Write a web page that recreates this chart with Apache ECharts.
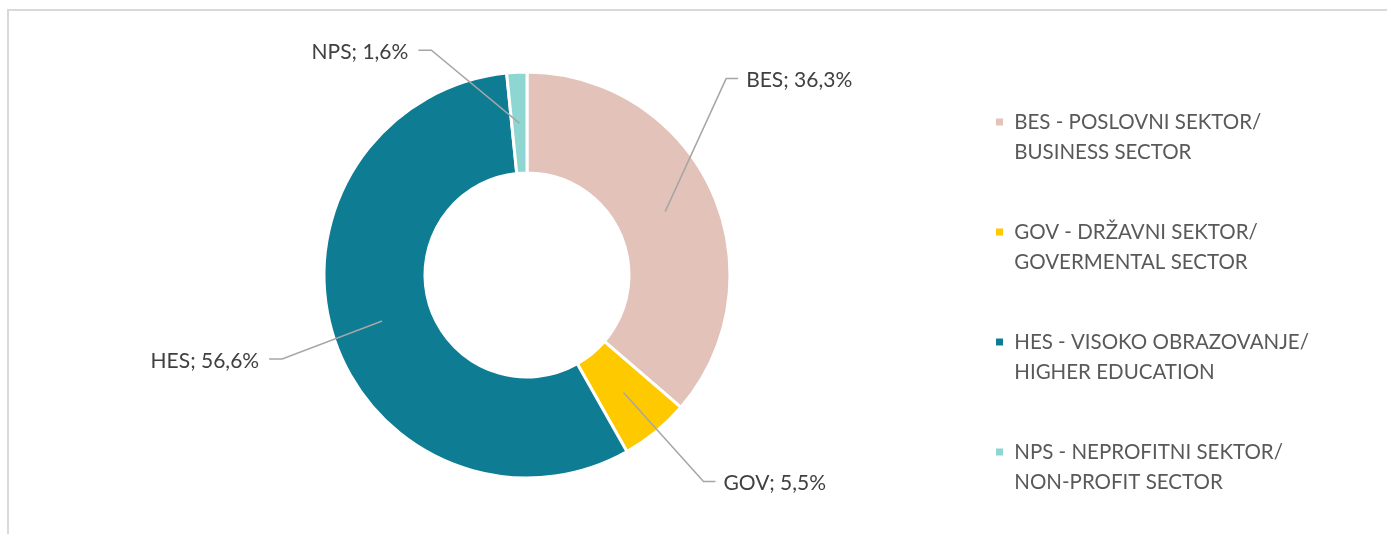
<!DOCTYPE html>
<html>
<head>
<meta charset="utf-8">
<script src="https://cdn.jsdelivr.net/npm/echarts@6/dist/echarts.min.js"></script>
<style>
  html, body { margin: 0; padding: 0; background: #fff; }
  #chart { width: 1387px; height: 534px; }
</style>
</head>
<body>
<div id="chart"></div>
<script>
/* ---------------- DATA ---------------- */

const SECTORS = ["BES", "GOV", "HES", "NPS"];
const SHARES = [36.3, 5.5, 56.6, 1.6];
const LEGEND_NAMES = [
    "BES - POSLOVNI SEKTOR/\nBUSINESS SECTOR",
    "GOV - DRŽAVNI SEKTOR/\nGOVERMENTAL SECTOR",
    "HES - VISOKO OBRAZOVANJE/\nHIGHER EDUCATION",
    "NPS - NEPROFITNI SEKTOR/\nNON-PROFIT SECTOR",
];

const COLORS = ["#e2c2b9", "#ffc900", "#0e7c93", "#8dd6d1"];

// elbow offset of each leader line from its anchor in the ring
const ELBOWS = [[61, -133], [80, 89], [-100, 38], [-88, -73]];

const FONT = "Lato, 'Open Sans', sans-serif";

/* ---------------- CHART ---------------- */

const chart = echarts.init(document.getElementById("chart"));

const data = SECTORS.map((s, i) => ({
    name: LEGEND_NAMES[i],
    value: SHARES[i],
    short: s,
    itemStyle: { color: COLORS[i] },
}));

const option = {
    animation: false,
    graphic: [{
        type: "rect",
        shape: { x: 8, y: 10, width: 1420, height: 600 },
        style: { fill: "none", stroke: "#d9d9d9", lineWidth: 2 },
        silent: true,
    }],
    legend: {
        orient: "vertical",
        left: 994,
        top: 77,
        padding: 0,
        itemWidth: 9,
        itemHeight: 9,
        itemGap: 20,
        icon: "rect",
        data: LEGEND_NAMES.map((n, i) => ({ name: n, itemStyle: { color: COLORS[i] } })),
        // empty first line keeps the marker level with the first text line
        formatter: (name) => "\n " + name.replace("\n", "\n "),
        textStyle: {
            fontFamily: FONT,
            fontSize: 20.5,
            color: "#595959",
            lineHeight: 30,
        },
        selectedMode: false,
    },
    series: [
        {
            type: "pie",
            z: 2,
            center: [527, 275],
            radius: [102, 203],
            startAngle: 90,
            clockwise: true,
            silent: true,
            label: { show: false },
            labelLine: { show: false },
            itemStyle: { borderColor: "#fff", borderWidth: 3 },
            data: data,
        },
        {
            // invisible overlay: anchors leader lines in the middle of the ring
            type: "pie",
            z: 5,
            center: [527, 275],
            radius: [0, 152],
            startAngle: 90,
            clockwise: true,
            silent: true,
            itemStyle: { color: "transparent", borderWidth: 0 },
            label: {
                show: true,
                fontFamily: FONT,
                fontSize: 21,
                color: "#404040",
                formatter: (p) => `${p.data.short}; ${String(p.value).replace(".", ",")}%`,
            },
            labelLine: {
                show: true,
                length: 10,
                length2: 10,
                lineStyle: { color: "#a6a6a6", width: 1.5 },
            },
            labelLayout: (params) => {
                const i = params.dataIndex;
                const a = params.labelLinePoints[0];
                const e = [a[0] + ELBOWS[i][0], a[1] + ELBOWS[i][1]];
                const right = ELBOWS[i][0] > 0;
                const end = [e[0] + (right ? 12 : -13), e[1]];
                return {
                    x: end[0] + (right ? 8 : -10),
                    y: e[1] + 2,
                    align: right ? "left" : "right",
                    verticalAlign: "middle",
                    labelLinePoints: [a, e, end],
                };
            },
            data: data.map((d) => ({ ...d, itemStyle: { color: "transparent" } })),
        },
    ],
};

chart.setOption(option);
</script>
</body>
</html>
